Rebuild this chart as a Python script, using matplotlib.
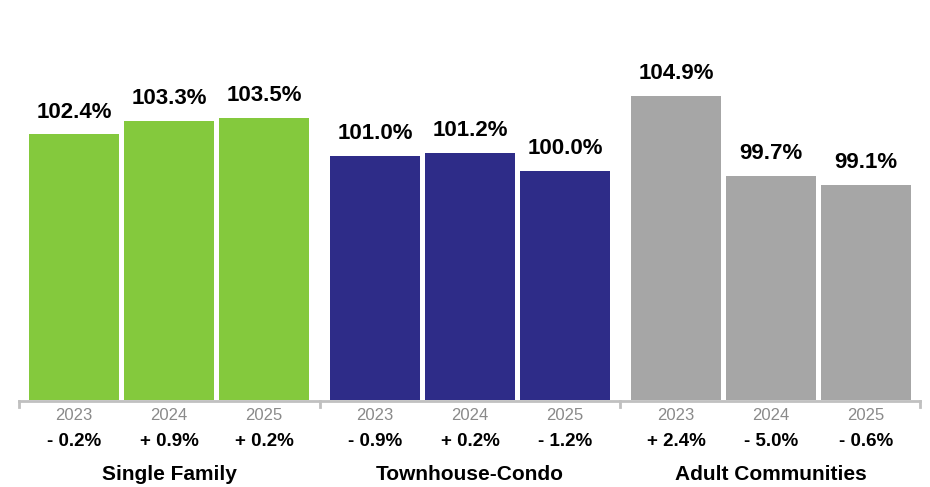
import matplotlib.pyplot as plt
import matplotlib.transforms as mtransforms

# =====================================================
# DATA
# =====================================================

groups = ["Single Family", "Townhouse-Condo", "Adult Communities"]
years = ["2023", "2024", "2025"]

single_family = [102.4, 103.3, 103.5]
townhouse_condo = [101.0, 101.2, 100.0]
adult_communities = [104.9, 99.7, 99.1]

changes_sf = ["- 0.2%", "+ 0.9%", "+ 0.2%"]
changes_tc = ["- 0.9%", "+ 0.2%", "- 1.2%"]
changes_ac = ["+ 2.4%", "- 5.0%", "- 0.6%"]

colors = ["#84C93D", "#2E2C88", "#A6A6A6"]

# =====================================================
# LAYOUT (pixel-like x units)
# =====================================================

BAR_W = 90
BAR_STEP = 95
GROUP_STEP = 301
X0 = 29
Y_MIN = 85
Y_MAX = 111.2

plt.rcParams["font.family"] = ["Liberation Sans", "DejaVu Sans"]

fig = plt.figure(figsize=(9.3, 4.87), dpi=100)
ax = fig.add_axes([0, (487 - 400) / 487, 1, 400 / 487])
ax.set_xlim(0, 930)
ax.set_ylim(Y_MIN, Y_MAX)
ax.axis("off")

blend = mtransforms.blended_transform_factory(ax.transData, fig.transFigure)

all_values = [single_family, townhouse_condo, adult_communities]
all_changes = [changes_sf, changes_tc, changes_ac]

for g, (name, vals, chg) in enumerate(zip(groups, all_values, all_changes)):
    centers = [X0 + g * GROUP_STEP + i * BAR_STEP + BAR_W / 2 for i in range(len(vals))]
    bottoms = [Y_MIN] * len(vals)
    heights = [v - Y_MIN for v in vals]
    ax.bar(centers, heights, bottom=bottoms, width=BAR_W, color=colors[g], zorder=2)

    for c, v, y, ch in zip(centers, vals, years, chg):
        ax.annotate(f"{v:.1f}%", (c, v), xytext=(0, 16), textcoords="offset points",
                    ha="center", va="center", fontsize=16, fontweight="bold", color="#000000")
        ax.text(c, 1 - 415 / 487, y, transform=blend, ha="center", va="center",
                fontsize=12, color="#8a8a8a")
        ax.text(c, 1 - 442 / 487, ch, transform=blend, ha="center", va="center",
                fontsize=13.5, fontweight="bold", color="#000000")

    ax.text(centers[1], 1 - 474 / 487, name, transform=blend, ha="center", va="center",
            fontsize=15, fontweight="bold", color="#000000")

# axis line with group separator ticks
axis_y = 1 - 401 / 487
tick_y = 1 - 407 / 487
ax.plot([19, 920], [axis_y, axis_y], transform=blend, color="#C0C0C0", lw=2, clip_on=False)
for tx in [19, 320, 620, 920]:
    ax.plot([tx, tx], [axis_y, tick_y], transform=blend, color="#C0C0C0", lw=2, clip_on=False)

fig.savefig("out.png", dpi=100)
